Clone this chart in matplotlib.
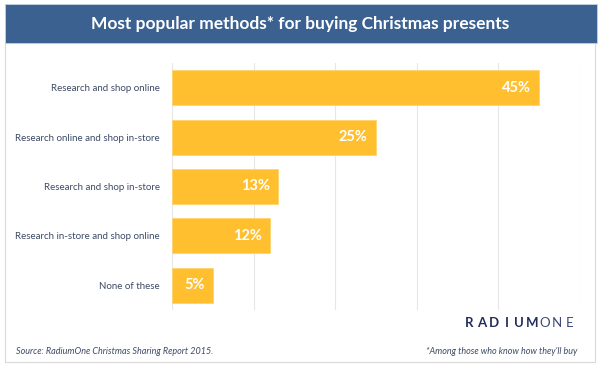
import matplotlib.pyplot as plt
from matplotlib.patches import Rectangle

categories = ['Research and shop online', 'Research online and shop in-store',
              'Research and shop in-store', 'Research in-store and shop online',
              'None of these']
values = [45, 25, 13, 12, 5]
title = 'Most popular methods* for buying Christmas presents'
source = 'Source: RadiumOne Christmas Sharing Report 2015.'
note = '*Among those who know how they\'ll buy'

plt.rcParams['font.family'] = ['Lato', 'DejaVu Sans']

W, H = 600, 371
fig = plt.figure(figsize=(6, 3.71), dpi=100)
fig.patch.set_facecolor('white')

def fx(px):
    return px / W

def fy(py):
    return 1 - py / H

# outer panel and title banner (behind the axes)
fig.patches.append(Rectangle((fx(5), fy(362)), fx(590), (362 - 43) / H,
                             transform=fig.transFigure, facecolor='white',
                             edgecolor='#d9d9d9', lw=0.8, zorder=-2))
fig.patches.append(Rectangle((fx(5), fy(43)), fx(592), 39 / H,
                             transform=fig.transFigure, facecolor='#3b6190',
                             edgecolor='#c8d2e0', lw=0.6, zorder=-1))
fig.text(0.5, fy(23.5), title, color='white', fontsize=12.5, fontweight='bold',
         ha='center', va='center')

ax = fig.add_axes([fx(172), fy(310), fx(408), (310 - 63) / H])
ax.set_facecolor('none')
y = list(range(len(categories)))
ax.barh(y, values, height=0.71, color='#ffbf2f', edgecolor='#ffd46e', lw=0.6, zorder=2)
for yi, v in zip(y, values):
    ax.text(v - 1.0, yi, f'{v}%', color='white', fontsize=10.5, fontweight='bold',
            ha='right', va='center', zorder=3)

ax.set_xlim(0, 50)
ax.set_ylim(len(categories) - 0.5, -0.5)
ax.set_xticks(range(0, 51, 10))
ax.grid(axis='x', color='#e6e6e6', lw=0.8, zorder=0)
ax.tick_params(axis='x', length=0, labelbottom=False)
ax.tick_params(axis='y', length=0, pad=9)
ax.set_yticks(y)
ax.set_yticklabels(categories, fontsize=7, color='#3d4a66')
for s in ax.spines.values():
    s.set_visible(False)

# logo and footnotes
logo_x = 469
for i, ch in enumerate('RADIUMONE'):
    fig.text(fx(logo_x + i * 12.6), fy(323), ch,
             color='#232d5c' if i < 6 else '#3d4a7a',
             fontsize=9.5, fontweight='bold' if i < 6 else 'normal',
             ha='center', va='center')
fig.text(fx(16), fy(352), source, color='#3d4a66', fontsize=6.5, style='italic',
         ha='left', va='center')
fig.text(fx(577), fy(352), note, color='#3d4a66', fontsize=6.5, style='italic',
         ha='right', va='center')

fig.savefig('out.png', dpi=100)
